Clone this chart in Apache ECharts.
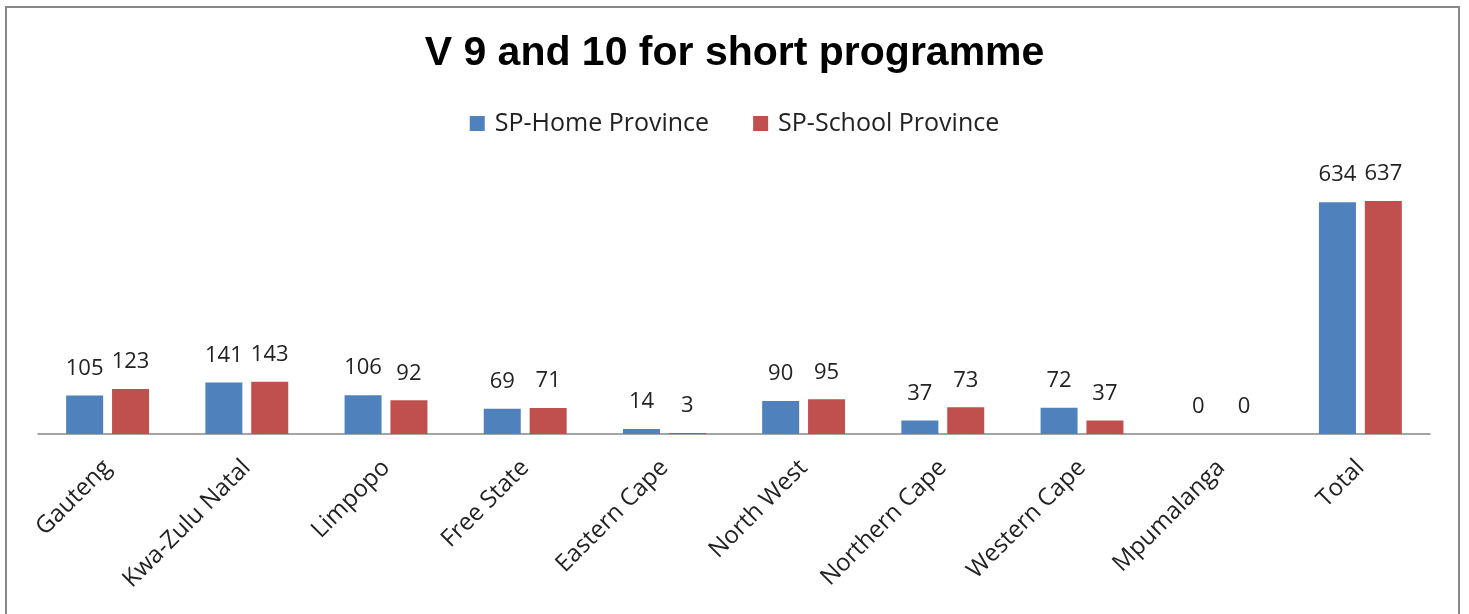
<!DOCTYPE html>
<html>
<head>
<meta charset="UTF-8">
<title>V 9 and 10 for short programme</title>
<script type="text/javascript" src="https://cdn.jsdelivr.net/npm/echarts@6.0.0/dist/echarts.min.js"></script>
<style>
html, body { margin: 0; padding: 0; background: #fff; }
#frame { position: absolute; left: 5px; top: 6px; width: 1455px; height: 620px; border: 2px solid #888; box-sizing: border-box; }
#myChart { position: absolute; left: 0; top: 0; width: 1469px; height: 614px; }
</style>
</head>
<body>
<div id="frame"></div>
<div id="myChart"></div>
<script type="text/javascript">
// categories
var provinces = ["Gauteng", "Kwa-Zulu Natal", "Limpopo", "Free State", "Eastern Cape",
	"North West", "Northern Cape", "Western Cape", "Mpumalanga", "Total"];
// series values
var homeProvince = [105, 141, 106, 69, 14, 90, 37, 72, 0, 634];
var schoolProvince = [123, 143, 92, 71, 3, 95, 73, 37, 0, 637];
var seriesNames = ["SP-Home Province", "SP-School Province"];

document.addEventListener("DOMContentLoaded", function(){
	var chart = echarts.init(document.getElementById("myChart"));

	//막대 위 숫자
	var labelStyle = {
		show: true,
		position: "top",
		distance: 16,
		fontFamily: "Open Sans",
		fontSize: 22,
		color: "#222"
	};

	var option = {
		animation: false,
		title: {
			text: "V 9 and 10 for short programme",
			left: "center",
			top: 28,
			textStyle: { fontFamily: "Liberation Sans", fontWeight: "bold", fontSize: 41, color: "#000" }
		},
		legend: {
			top: 106,
			left: "center",
			itemWidth: 15,
			itemHeight: 15,
			itemGap: 44,
			icon: "rect",
			textStyle: { fontFamily: "Open Sans", fontSize: 25, color: "#222", padding: [0, 0, 0, 5] },
			data: seriesNames
		},
		grid: { left: 38, right: 39, top: 178, bottom: 180, containLabel: false },
		xAxis: {
			type: "category",
			data: provinces,
			axisLine: { lineStyle: { color: "#868686", width: 1.5 } },
			axisTick: { show: false },
			axisLabel: {
				rotate: 45,
				interval: 0,
				margin: 30,
				fontFamily: "Open Sans",
				fontSize: 24,
				color: "#222"
			}
		},
		yAxis: {
			type: "value",
			min: 0,
			max: 700,
			interval: 100,
			show: false,
			splitLine: { show: false }
		},
		series: [
			{
				name: seriesNames[0],
				type: "bar",
				data: homeProvince,
				barWidth: 37,
				barGap: "24%",
				itemStyle: { color: "#4F81BD" },
				label: labelStyle
			},
			{
				name: seriesNames[1],
				type: "bar",
				data: schoolProvince,
				barWidth: 37,
				itemStyle: { color: "#C0504D" },
				label: labelStyle
			}
		]
	};
	chart.setOption(option, true);
});
</script>
</body>
</html>
